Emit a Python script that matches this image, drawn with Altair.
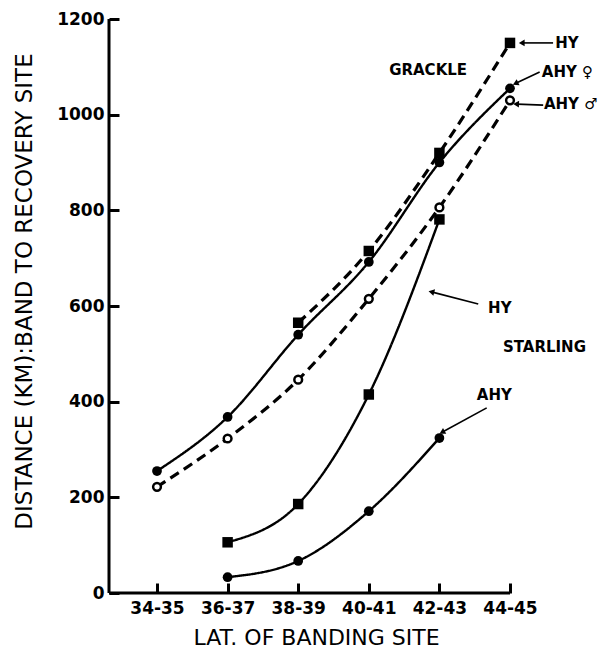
import json
import math
import altair as alt
import pandas as pd

# ---------------- data ----------------
categories = ["34-35", "36-37", "38-39", "40-41", "42-43", "44-45"]

grackle_hy = [None, None, 565, 715, 920, 1150]
grackle_ahy_f = [255, 368, 540, 692, 900, 1055]
grackle_ahy_m = [222, 323, 446, 615, 806, 1030]
starling_hy = [None, 106, 186, 415, 781, None]
starling_ahy = [None, 33, 67, 171, 324, None]

series_defs = [
    ("Grackle HY", grackle_hy, "square", "dashed"),
    ("Grackle AHY F", grackle_ahy_f, "filled", "solid"),
    ("Grackle AHY M", grackle_ahy_m, "open", "dashed"),
    ("Starling HY", starling_hy, "square", "solid"),
    ("Starling AHY", starling_ahy, "filled", "solid"),
]

rows = []
for name, vals, marker, dash in series_defs:
    for i, v in enumerate(vals):
        if v is not None:
            rows.append({"series": name, "idx": i, "cat": categories[i],
                         "value": v, "marker": marker, "dash": dash})
df = pd.DataFrame(rows)

# annotation texts (data coordinates: category index, km)
ann_text = ["GRACKLE", "HY", "AHY \u2640", "AHY \u2642", "HY", "STARLING", "AHY"]
ann_x = [3.84, 5.64, 5.45, 5.48, 4.69, 4.90, 4.53]
ann_y = [1093, 1150, 1089, 1022, 596, 514, 414]
ann_align = ["center", "left", "left", "left", "left", "left", "left"]

# arrows: tail -> head (data coordinates)
arr_x1 = [5.61, 5.42, 5.47, 4.55, 4.67]
arr_y1 = [1150, 1089, 1020, 604, 387]
arr_x2 = [5.18, 5.09, 5.10, 3.90, 4.05]
arr_y2 = [1150, 1066, 1022, 629, 337]

# ---------------- layout ----------------
W, H = 401, 574
XMIN, XMAX = -0.68, 5
YMIN, YMAX = 0, 1200
px_x = W / (XMAX - XMIN)
px_y = H / (YMAX - YMIN)

angles = []
for x1, y1, x2, y2 in zip(arr_x1, arr_y1, arr_x2, arr_y2):
    dx = (x2 - x1) * px_x
    dy_screen = -(y2 - y1) * px_y
    angles.append((math.degrees(math.atan2(dx, -dy_screen)) + 360) % 360)

ann_df = pd.DataFrame({"text": ann_text, "x": ann_x, "y": ann_y, "align": ann_align})
arr_df = pd.DataFrame({"x1": arr_x1, "y1": arr_y1, "x2": arr_x2, "y2": arr_y2, "angle": angles})

FONT = "DejaVu Sans"

xscale = alt.Scale(domain=[XMIN, XMAX], nice=False, zero=False)
yscale = alt.Scale(domain=[YMIN, YMAX], nice=False)

label_expr = "%s[datum.value]" % json.dumps(categories)

x_enc = alt.X("idx:Q", scale=xscale, axis=alt.Axis(
    values=list(range(len(categories))), labelExpr=label_expr, labelOverlap=False,
    labelFlush=False,
    offset=-10, domain=False, grid=False,
    tickSize=10, tickWidth=3, tickColor="black",
    labelFont=FONT, labelFontWeight="bold", labelFontSize=17, labelColor="black",
    labelPadding=7,
    title="LAT. OF BANDING SITE", titleFont=FONT, titleFontWeight="normal",
    titleFontSize=22, titleColor="black", titlePadding=11, titleX=207))

y_enc = alt.Y("value:Q", scale=yscale, axis=alt.Axis(
    values=list(range(0, 1201, 200)), format="d", labelOverlap=False, labelFlush=False,
    offset=-10, domain=False, grid=False,
    tickSize=10, tickWidth=3, tickColor="black",
    labelFont=FONT, labelFontWeight="bold", labelFontSize=17, labelColor="black",
    labelPadding=5,
    title="DISTANCE (KM):BAND TO RECOVERY SITE", titleFont=FONT,
    titleFontWeight="normal", titleFontSize=23, titleColor="black", titlePadding=20,
    titleY=272))

base = alt.Chart(df)

lines = base.mark_line(interpolate="monotone", color="black").encode(
    x=x_enc, y=y_enc, detail="series:N",
    strokeDash=alt.StrokeDash("dash:N", scale=alt.Scale(domain=["solid", "dashed"],
                                                        range=[[1, 0], [10, 6]]), legend=None),
    strokeWidth=alt.StrokeWidth("dash:N", scale=alt.Scale(domain=["solid", "dashed"],
                                                          range=[2.4, 3.2]), legend=None),
)

filled = base.transform_filter(alt.datum.marker == "filled").mark_circle(
    size=95, color="black", opacity=1).encode(x="idx:Q", y="value:Q")
squares = base.transform_filter(alt.datum.marker == "square").mark_square(
    size=110, color="black", opacity=1).encode(x="idx:Q", y="value:Q")
opens = base.transform_filter(alt.datum.marker == "open").mark_point(
    shape="circle", filled=True, fill="white", stroke="black", strokeWidth=2.5,
    size=60, opacity=1).encode(x="idx:Q", y="value:Q")

# axis lines
axis_df = pd.DataFrame({"a": [0]})
yline = alt.Chart(axis_df).mark_rule(strokeWidth=3, color="black").encode(
    x=alt.value(0), y=alt.value(0), y2=alt.value(H))
xline = alt.Chart(axis_df).mark_rule(strokeWidth=3, color="black").encode(
    x=alt.value(0), x2=alt.value(W), y=alt.value(H))

text_center = alt.Chart(ann_df).transform_filter(alt.datum.align == "center").mark_text(
    font=FONT, fontWeight="bold", fontSize=15, color="black", baseline="middle",
    align="center").encode(x="x:Q", y="y:Q", text="text:N")
text_left = alt.Chart(ann_df).transform_filter(alt.datum.align == "left").mark_text(
    font=FONT, fontWeight="bold", fontSize=15, color="black", baseline="middle",
    align="left").encode(x="x:Q", y="y:Q", text="text:N")

arrow_lines = alt.Chart(arr_df).mark_rule(strokeWidth=1.6, color="black").encode(
    x="x1:Q", y="y1:Q", x2="x2:Q", y2="y2:Q")
arrow_heads = alt.Chart(arr_df).mark_point(shape="triangle", filled=True, color="black",
                                           size=45, opacity=1).encode(
    x="x2:Q", y="y2:Q", angle=alt.Angle("angle:Q", scale=None))

chart = alt.layer(lines, filled, squares, opens, yline, xline, arrow_lines, arrow_heads,
                  text_center, text_left).properties(
    width=W, height=H,
    autosize=alt.AutoSizeParams(type="none"),
    padding={"left": 101, "top": 11, "right": 97, "bottom": 57},
    background="white",
).configure_view(stroke=None)

chart.save("out.html", embed_options={"renderer": "svg", "actions": False})
